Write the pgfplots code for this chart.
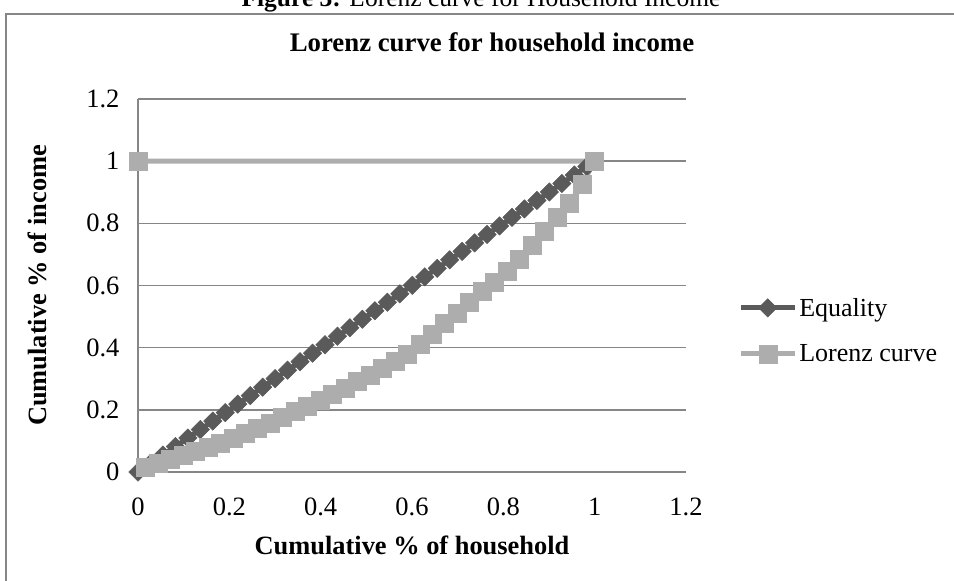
\documentclass[border=0pt]{standalone}
\usepackage{fontspec}
\setmainfont{Liberation Serif}
\usepackage{pgfplots}
\pgfplotsset{compat=1.18}
\definecolor{eqc}{RGB}{90,90,90}
\definecolor{lzc}{RGB}{173,173,173}
\definecolor{gridc}{RGB}{134,134,134}
\begin{document}
\begin{tikzpicture}[x=1pt,y=1pt]
\useasboundingbox (0,0) rectangle (954,581);
\begin{scope}
\clip (0,0) rectangle (954,581);
\node[anchor=base, font=\fontsize{25.5}{30}\selectfont, inner sep=0pt] at (481,574) {\textbf{Figure 3:} Lorenz curve for Household Income};
\draw[gridc, line width=1.5pt] (6,-10) -- (6,567) -- (980,567);
\end{scope}
\begin{axis}[
  at={(138pt,109pt)}, anchor=south west, scale only axis,
  width=548pt, height=373pt,
  xmin=0, xmax=1.2, ymin=0, ymax=1.2,
  xtick={0,0.2,0.4,0.6,0.8,1,1.2},
  ytick={0,0.2,0.4,0.6,0.8,1,1.2},
  major tick length=0pt,
  axis lines=left,
  axis line style={gridc, line width=1.5pt, -},
  ymajorgrids,
  grid style={gridc, line width=1.5pt},
  clip=false,
  tick label style={font=\fontsize{26.5}{30}\selectfont},
  /pgf/number format/assume math mode=true,
  xticklabel style={yshift=-22pt},
  yticklabel style={xshift=-15pt},
  title={Lorenz curve for household income},
  title style={font=\bfseries\fontsize{26.8}{30}\selectfont, at={(rel axis cs:0.646,1)}, anchor=center, yshift=51pt},
  xlabel={Cumulative \% of household},
  xlabel style={font=\bfseries\fontsize{26.4}{30}\selectfont, at={(rel axis cs:0.5,0)}, anchor=center, yshift=-73pt},
  ylabel={Cumulative \% of income},
  ylabel style={font=\bfseries\fontsize{26.4}{30}\selectfont, at={(rel axis cs:0,0.5)}, anchor=center, yshift=101pt},
  legend style={at={(rel axis cs:1.095,0.379)}, anchor=west, draw=none, fill=none,
    font=\fontsize{26}{30}\selectfont, row sep=23pt, inner sep=0pt,
    nodes={inner sep=2pt}},
  legend cell align=left,
  legend image code/.code={\draw[#1, mark repeat=2, mark phase=2] plot coordinates {(0pt,0pt) (27pt,0pt) (54pt,0pt)};},
]
\addplot[eqc, line width=5pt, mark=square*, mark size=6.5pt,
  mark options={rotate=45, solid, fill=eqc, draw=eqc, line width=0.5pt}] coordinates {
(0,0) (0.0273,0.0273) (0.0546,0.0546) (0.0819,0.0819) (0.1092,0.1092) (0.1365,0.1365)
(0.1638,0.1638) (0.1911,0.1911) (0.2184,0.2184) (0.2457,0.2457) (0.2730,0.2730)
(0.3003,0.3003) (0.3276,0.3276) (0.3549,0.3549) (0.3822,0.3822) (0.4095,0.4095)
(0.4368,0.4368) (0.4641,0.4641) (0.4914,0.4914) (0.5187,0.5187) (0.5460,0.5460)
(0.5733,0.5733) (0.6006,0.6006) (0.6279,0.6279) (0.6552,0.6552) (0.6825,0.6825)
(0.7098,0.7098) (0.7371,0.7371) (0.7644,0.7644) (0.7917,0.7917) (0.8190,0.8190)
(0.8463,0.8463) (0.8736,0.8736) (0.9009,0.9009) (0.9282,0.9282) (0.9555,0.9555)
(0.9828,0.9828)
};
\addlegendentry{Equality}
\addplot[lzc, line width=5pt, mark=square*, mark size=9pt,
  mark options={solid, fill=lzc, draw=lzc, line width=0.5pt}] coordinates {
(0.0165,0.014) (0.0438,0.027) (0.0711,0.040) (0.0984,0.053) (0.1257,0.066)
(0.1530,0.080) (0.1803,0.094) (0.2076,0.109) (0.2349,0.124) (0.2622,0.140)
(0.2895,0.157) (0.3168,0.175) (0.3441,0.194) (0.3714,0.213) (0.3987,0.232)
(0.4260,0.251) (0.4533,0.271) (0.4806,0.291) (0.5079,0.312) (0.5352,0.333)
(0.5625,0.355) (0.5898,0.380) (0.6171,0.410) (0.6444,0.443) (0.6717,0.478)
(0.6990,0.510) (0.7263,0.547) (0.7536,0.580) (0.7809,0.612) (0.8082,0.646)
(0.8355,0.683) (0.8628,0.730) (0.8901,0.775) (0.9174,0.820) (0.9447,0.865)
(0.9720,0.925) (1,1) (0,1)
};
\addlegendentry{Lorenz curve}
\end{axis}
\end{tikzpicture}
\end{document}
